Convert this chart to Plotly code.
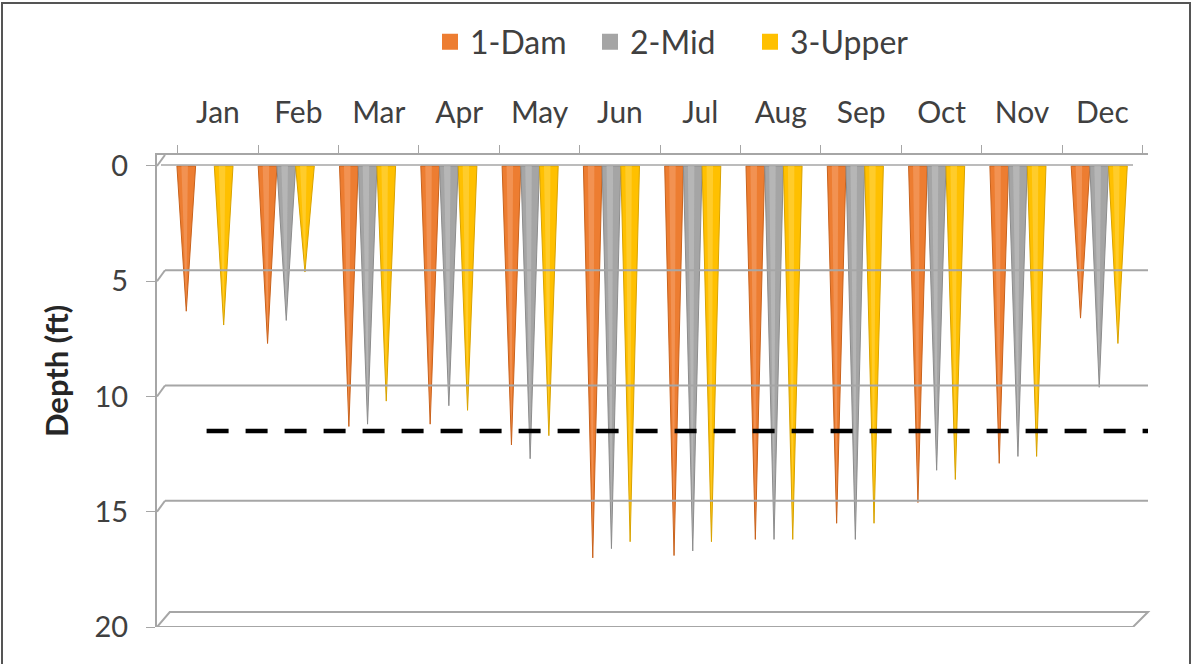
import plotly.graph_objects as go

months = ["Jan", "Feb", "Mar", "Apr", "May", "Jun", "Jul", "Aug", "Sep", "Oct", "Nov", "Dec"]
series_names = ["1-Dam", "2-Mid", "3-Upper"]
dam = [6.3, 7.7, 11.3, 11.2, 12.1, 17.0, 16.9, 16.2, 15.5, 14.6, 12.9, 6.6]
mid = [None, 6.7, 11.2, 10.4, 12.7, 16.6, 16.7, 16.2, 16.2, 13.2, 12.6, 9.6]
upper = [6.9, 4.6, 10.2, 10.6, 11.7, 16.3, 16.3, 16.2, 15.5, 13.6, 12.6, 7.7]
threshold = 11.5
y_ticks = [0, 5, 10, 15, 20]

colors = ["#ED7D31", "#A5A5A5", "#FFC000"]
edge_colors = ["#C8621C", "#8C8C8C", "#D8A200"]
light_colors = ["#F5A46E", "#C4C4C4", "#FFD54F"]
offsets = [-0.23, 0.0, 0.23]
half_w = 0.115


def back_shift(p):
    # category labels / ticks sit on the back wall (3D perspective look)
    return 0.16 - 0.011 * p


W, H = 1193, 664
ml, mr, mt, mb = 157, 45, 155, 37
pw, ph = W - ml - mr, H - mt - mb
grid_col = "#A6A6A6"
text_col = "#404040"
font_family = "Lato, Open Sans, sans-serif"

fig = go.Figure()
for vals, name, col, ecol, lcol, off in zip([dam, mid, upper], series_names, colors,
                                            edge_colors, light_colors, offsets):
    xs, ys, hx, hy = [], [], [], []
    for i, v in enumerate(vals):
        if v is None:
            continue
        c = i + off
        xs += [c - half_w, c + half_w, c, c - half_w, None]
        ys += [0, 0, v, 0, None]
        hx += [c - 0.06, c + 0.02, c, c - 0.06, None]
        hy += [0, 0, v * 0.97, 0, None]
    fig.add_trace(go.Scatter(x=xs, y=ys, mode="lines", fill="toself", fillcolor=col,
                             line=dict(color=ecol, width=1), showlegend=False, hoverinfo="skip"))
    fig.add_trace(go.Scatter(x=hx, y=hy, mode="lines", fill="toself", fillcolor=lcol,
                             line=dict(width=0), opacity=0.55, showlegend=False, hoverinfo="skip"))
    fig.add_trace(go.Scatter(x=[None], y=[None], mode="markers", name=name,
                             marker=dict(symbol="square", size=19, color=col)))

# back-wall gridlines with 3D connectors
back_dx = 8 / pw
for v in y_ticks[1:-1]:
    fig.add_shape(type="line", xref="paper", yref="y", ysizemode="pixel", yanchor=v,
                  x0=back_dx, x1=1.0, y0=11, y1=11, line=dict(color=grid_col, width=2))
    fig.add_shape(type="line", xref="paper", yref="y", ysizemode="pixel", yanchor=v,
                  x0=0, x1=back_dx, y0=0, y1=11, line=dict(color=grid_col, width=2))
# floor (at bottom value)
floor = y_ticks[-1]
fig.add_shape(type="path", xref="paper", yref="y", ysizemode="pixel", yanchor=floor,
              path=f"M0,0 L{1 - 15 / pw},0 L1,15 L{back_dx * 1.6},15 Z",
              line=dict(color=grid_col, width=2), fillcolor="rgba(0,0,0,0)")
# top front edge
fig.add_shape(type="line", xref="paper", yref="y", ysizemode="pixel", yanchor=0,
              x0=back_dx * 0.5, x1=1 - 15 / pw, y0=1, y1=1, line=dict(color=grid_col, width=1.5))
fig.add_shape(type="line", xref="paper", yref="y", ysizemode="pixel", yanchor=0,
              x0=0, x1=back_dx, y0=0, y1=11, line=dict(color=grid_col, width=2))

# threshold dashed line
fig.add_shape(type="line", xref="x", yref="y", x0=0.02, x1=11.6, y0=threshold, y1=threshold,
              line=dict(color="black", width=4.5, dash="22px,17px"))

# outer border (bottom edge falls outside the picture, as in the original crop)
fig.add_shape(type="rect", xref="paper", yref="paper",
              x0=-(ml - 2) / pw, x1=1 + (mr - 3) / pw, y0=-(mb + 6) / ph, y1=1 + (mt - 3) / ph,
              line=dict(color="#555555", width=2), fillcolor="rgba(0,0,0,0)", layer="below")

# y-axis title
fig.add_annotation(text="<b>Depth (ft)</b>", xref="paper", yref="paper",
                   x=(56 - ml) / pw, y=1 - (371 - mt) / ph, xanchor="center", yanchor="middle",
                   textangle=-90, showarrow=False, font=dict(size=31, color="#262626"))

fig.update_layout(
    width=W, height=H,
    margin=dict(l=ml, r=mr, t=mt, b=mb),
    plot_bgcolor="white", paper_bgcolor="white",
    font=dict(family=font_family, color=text_col, size=30),
    legend=dict(orientation="h", x=(430 - ml) / pw, xanchor="left",
                y=1 + (mt - 42) / ph, yanchor="middle",
                font=dict(size=32, color=text_col), itemwidth=30, tracegroupgap=0,
                entrywidth=115, entrywidthmode="pixels",
                bgcolor="rgba(0,0,0,0)"),
    showlegend=True,
)
fig.update_xaxes(
    range=[-0.59, 11.6], side="top", automargin=False,
    tickmode="array", tickvals=[i + back_shift(i) for i in range(12)], ticktext=months,
    ticks="", ticklabelstandoff=18, tickfont=dict(size=30, color=text_col),
    showgrid=False, zeroline=False, showline=True, linecolor=grid_col, linewidth=2,
    minor=dict(tickmode="array", tickvals=[i - 0.5 + back_shift(i - 0.5) for i in range(13)],
               ticks="outside", ticklen=8, tickcolor=grid_col, tickwidth=1, showgrid=False),
)
fig.update_yaxes(
    range=[20, -0.477], tickmode="array", tickvals=y_ticks, automargin=False,
    ticks="outside", ticklen=9, tickcolor=grid_col, ticklabelstandoff=12,
    tickfont=dict(size=29, color=text_col),
    showgrid=False, zeroline=False,
    showline=True, linecolor=grid_col, linewidth=2,
)
fig.write_html("out.html", config={"displayModeBar": False},
               post_script="document.body.style.margin='0px';")
